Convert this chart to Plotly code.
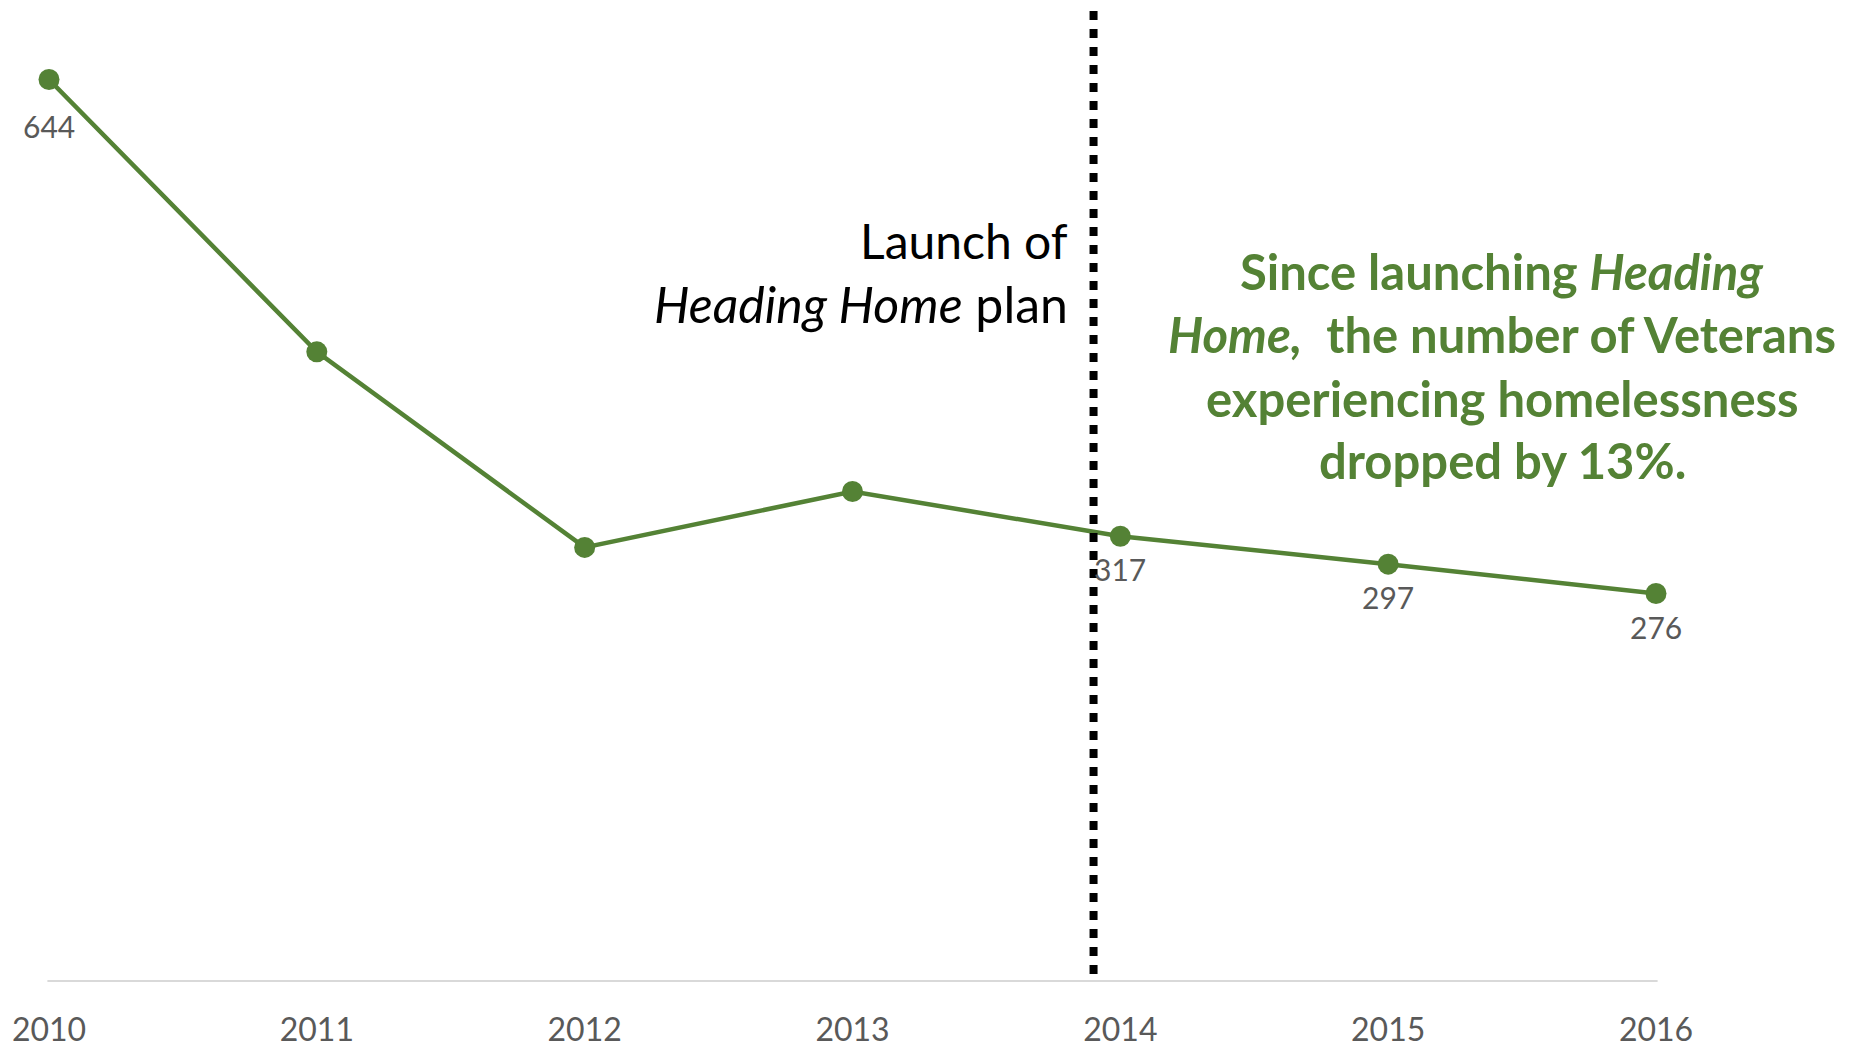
import plotly.graph_objects as go

years = [2010, 2011, 2012, 2013, 2014, 2015, 2016]
veterans = [644, 449, 309, 349, 317, 297, 276]
labeled_years = [2010, 2014, 2015, 2016]
tick_labels = ["2010", "2011", "2012", "2013", "2014", "2015", "2016"]
launch_year = 2013.9

GREEN = "#548235"
GRAY = "#595959"
FONT = "Lato"

fig = go.Figure()
fig.add_trace(go.Scatter(
    x=years, y=veterans, mode="lines+markers",
    line=dict(color=GREEN, width=4.5),
    marker=dict(color=GREEN, size=21),
    cliponaxis=False, hoverinfo="x+y", showlegend=False,
))

# data labels
for yr, v in zip(years, veterans):
    if yr in labeled_years:
        fig.add_annotation(
            x=yr, y=v, xref="x", yref="y", text=str(v), showarrow=False,
            yshift=-46 if yr == 2010 else -33,
            font=dict(family=FONT, size=30, color=GRAY),
        )

# launch line (drawn top to bottom so the dot pattern starts at the top)
fig.add_shape(type="line", xref="x", yref="y", x0=launch_year, x1=launch_year,
              y0=693, y1=-1, line=dict(color="black", width=8, dash="9px,9px"))

# black annotation
fig.add_annotation(xref="paper", yref="paper", x=0.6354, y=0.7604, xanchor="right",
                   yanchor="middle", showarrow=False, text="Launch of",
                   font=dict(family=FONT, size=48, color="black"))
fig.add_annotation(xref="paper", yref="paper", x=0.6354, y=0.6947, xanchor="right",
                   yanchor="middle", showarrow=False, text="<i>Heading Home</i> plan",
                   font=dict(family=FONT, size=50, color="black"))

green_lines = [
    "<b>Since launching <i>Heading</i></b>",
    "<b><i>Home,</i>  the number of Veterans</b>",
    "<b>experiencing homelessness</b>",
    "<b>dropped by 13%.</b>",
]
green_y = [0.7291, 0.6643, 0.5984, 0.5345]
for t, yy in zip(green_lines, green_y):
    fig.add_annotation(xref="paper", yref="paper", x=0.9042, y=yy, xanchor="center",
                       yanchor="middle", showarrow=False, text=t,
                       font=dict(family=FONT, size=49, color=GREEN))

fig.update_layout(
    width=1842, height=1039,
    margin=dict(l=41, r=194, t=0, b=68),
    paper_bgcolor="white", plot_bgcolor="white",
    xaxis=dict(range=[2010, 2016], tickvals=years, ticktext=tick_labels,
               showgrid=False, zeroline=False, showline=False,
               ticks="", ticklabelstandoff=29,
               tickfont=dict(family=FONT, size=32, color=GRAY)),
    yaxis=dict(range=[0, 695.2], showgrid=False, zeroline=False, showline=False,
               showticklabels=False, ticks=""),
)

# axis baseline
fig.add_shape(type="line", xref="paper", yref="paper", x0=-0.001, x1=1.001,
              y0=-0.002, y1=-0.002,
              line=dict(color="#d9d9d9", width=2), layer="below")

fig.write_html("out.html")
